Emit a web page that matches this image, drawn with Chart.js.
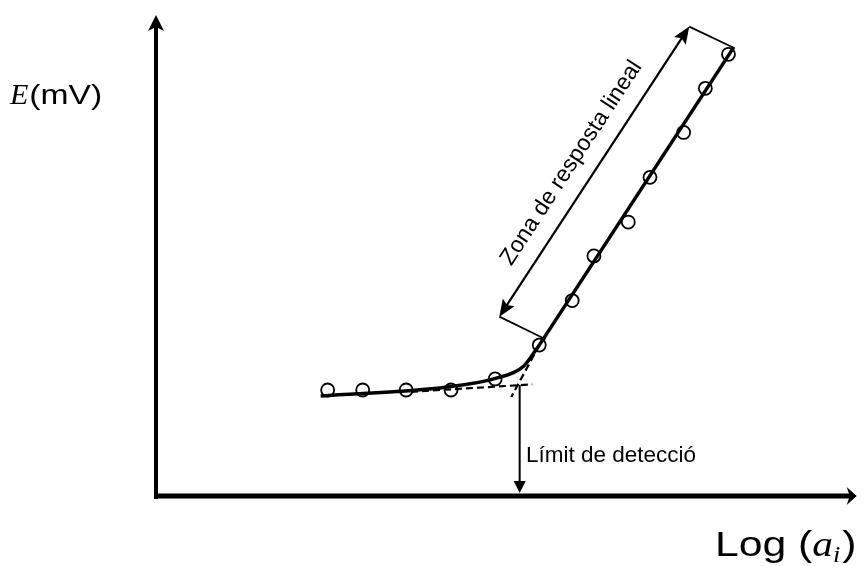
<!DOCTYPE html>
<html><head><meta charset="utf-8">
<script src="https://cdn.jsdelivr.net/npm/chart.js@4/dist/chart.umd.min.js"></script>
<style>html,body{margin:0;padding:0;background:#fff}canvas{display:block}</style>
</head><body>
<canvas id="c" width="865" height="566"></canvas>
<script>
// ---- Data (X = Log(a_i), Y = E in mV, arbitrary schematic units) ----
const pointX = [2.45, 2.95, 3.57, 4.21, 4.84, 5.47, 5.94, 6.25, 6.74, 7.05, 7.53, 7.84, 8.17];
const pointY = [52.9, 52.9, 52.9, 52.9, 58.4, 75.3, 97.5, 119.8, 136.7, 159.0, 181.4, 203.4, 220.4];
const curveX = [2.35, 4.16, 4.87, 5.25, 5.47];
const curveY = [49.9, 54.4, 58.9, 64.9, 75.3];
const linearX = [5.47, 8.24];
const linearY = [75.3, 223.6];
const baseDashX = [3.64, 5.37];
const baseDashY = [52.0, 55.7];
const slopeDashX = [5.47, 5.07];
const slopeDashY = [75.3, 49.4];
const limitArrowX = [5.19, 5.19];
const limitArrowY = [55.4, 0];
const zoneArrowX = [4.90, 7.61];
const zoneArrowY = [89.5, 234.2];
const zoneTopTickX = [7.61, 8.26];
const zoneTopTickY = [234.2, 223.4];
const zoneBotTickX = [4.90, 5.56];
const zoneBotTickY = [89.5, 78.2];
const zoneLabelPos = [5.93, 166.2];
const limitLabelPos = [5.28, 17];
const xRange = [0, 10];
const yRange = [0, 240];
const yTitleParts = ['E', '(mV)'];
const xTitleParts = ['Log (', 'a', 'i', ')'];
const zoneLabel = 'Zona de resposta lineal';
const limitLabel = 'Límit de detecció';

const pts = (xs, ys) => xs.map((x, i) => ({x, y: ys[i]}));

function head(ctx, tx, ty, fx, fy, len, hw, notch) {
  const dx = tx - fx, dy = ty - fy, L = Math.hypot(dx, dy);
  const ux = dx / L, uy = dy / L, nx = -uy, ny = ux;
  ctx.beginPath();
  ctx.moveTo(tx, ty);
  ctx.lineTo(tx - ux * len + nx * hw, ty - uy * len + ny * hw);
  ctx.lineTo(tx - ux * (len - notch), ty - uy * (len - notch));
  ctx.lineTo(tx - ux * len - nx * hw, ty - uy * len - ny * hw);
  ctx.closePath();
  ctx.fill();
}
function seg(ctx, x1, y1, x2, y2, w) {
  ctx.lineWidth = w;
  ctx.beginPath(); ctx.moveTo(x1, y1); ctx.lineTo(x2, y2); ctx.stroke();
}
function stext(ctx, t, x, y, font, sx) {
  ctx.save();
  ctx.font = font;
  ctx.translate(x, y);
  ctx.scale(sx, 1);
  ctx.fillText(t, 0, 0);
  const w = ctx.measureText(t).width * sx;
  ctx.restore();
  return w;
}

const decor = {
  id: 'decor',
  afterDatasetsDraw(chart) {
    const ctx = chart.ctx, xs = chart.scales.x, ys = chart.scales.y, a = chart.chartArea;
    const px = v => xs.getPixelForValue(v), py = v => ys.getPixelForValue(v);
    ctx.save();
    ctx.strokeStyle = '#000'; ctx.fillStyle = '#000'; ctx.lineCap = 'butt';
    // axes
    const ox = px(xRange[0]), oy = py(yRange[0]);
    seg(ctx, ox, oy + 3, ox, a.top + 10, 4);
    head(ctx, ox, a.top, ox, oy, 16, 8, 4);
    seg(ctx, ox - 2, oy, a.right - 6, oy, 5);
    head(ctx, a.right, oy, ox, oy, 10, 9, 3);
    // limit of detection arrow
    const lx1 = px(limitArrowX[0]), ly1 = py(limitArrowY[0]);
    const lx2 = px(limitArrowX[1]), ly2 = py(limitArrowY[1]) - 3;
    seg(ctx, lx1, ly1, lx2, ly2 - 8, 2);
    head(ctx, lx2, ly2, lx1, ly1, 12, 6, 0);
    // linear zone double arrow
    const ax1 = px(zoneArrowX[0]), ay1 = py(zoneArrowY[0]);
    const ax2 = px(zoneArrowX[1]), ay2 = py(zoneArrowY[1]);
    const ddx = ax2 - ax1, ddy = ay2 - ay1, dl = Math.hypot(ddx, ddy);
    seg(ctx, ax1 + ddx / dl * 8, ay1 + ddy / dl * 8, ax2 - ddx / dl * 8, ay2 - ddy / dl * 8, 2.2);
    head(ctx, ax1, ay1, ax2, ay2, 17, 7, 3);
    head(ctx, ax2, ay2, ax1, ay1, 17, 7, 3);
    seg(ctx, px(zoneTopTickX[0]), py(zoneTopTickY[0]), px(zoneTopTickX[1]), py(zoneTopTickY[1]), 1.7);
    seg(ctx, px(zoneBotTickX[0]), py(zoneBotTickY[0]), px(zoneBotTickX[1]), py(zoneBotTickY[1]), 1.7);
    // zone label
    ctx.save();
    ctx.translate(px(zoneLabelPos[0]), py(zoneLabelPos[1]));
    ctx.rotate(Math.atan2(ddy, ddx));
    ctx.font = '23px "Liberation Sans", Arial, sans-serif';
    ctx.textAlign = 'center'; ctx.textBaseline = 'middle';
    ctx.fillText(zoneLabel, 0, 0);
    ctx.restore();
    // limit label
    ctx.font = '22.5px "Liberation Sans", Arial, sans-serif';
    ctx.textAlign = 'left'; ctx.textBaseline = 'alphabetic';
    ctx.fillText(limitLabel, px(limitLabelPos[0]), py(limitLabelPos[1]));
    // y title
    let x = a.left - 146, y = a.top + 89;
    x += stext(ctx, yTitleParts[0], x, y, 'italic 30px "Liberation Serif", "Times New Roman", serif', 1.0) + 1;
    stext(ctx, yTitleParts[1], x, y, '28px "Liberation Sans", Arial, sans-serif', 1.2);
    // x title
    x = a.left + 559; y = a.bottom + 60;
    x += stext(ctx, xTitleParts[0], x, y, '35px "Liberation Sans", Arial, sans-serif', 1.22);
    x += stext(ctx, xTitleParts[1], x, y, 'italic 36px "Liberation Serif", "Times New Roman", serif', 1.15);
    x += stext(ctx, xTitleParts[2], x, y + 6, 'italic 23px "Liberation Serif", "Times New Roman", serif', 1.15) + 2;
    stext(ctx, xTitleParts[3], x, y, '35px "Liberation Sans", Arial, sans-serif', 1.22);
    ctx.restore();
  }
};

const lineDs = (data, extra) => Object.assign({
  data, showLine: true, pointRadius: 0, borderColor: '#000', fill: false
}, extra);

new Chart(document.getElementById('c'), {
  type: 'scatter',
  data: {
    datasets: [
      lineDs(pts(curveX, curveY), {borderWidth: 3.5, cubicInterpolationMode: 'monotone'}),
      lineDs(pts(linearX, linearY), {borderWidth: 3.5}),
      lineDs(pts(baseDashX, baseDashY), {borderWidth: 2.2, borderDash: [7, 4]}),
      lineDs(pts(slopeDashX, slopeDashY), {borderWidth: 2.2, borderDash: [7, 4]}),
      {data: pts(pointX, pointY), pointRadius: 6.5, pointBorderWidth: 1.8,
       pointBackgroundColor: '#fff', pointBorderColor: '#000', showLine: false}
    ]
  },
  options: {
    responsive: false, animation: false, devicePixelRatio: 1,
    layout: {padding: {left: 156, right: 4, top: 15, bottom: 70}},
    plugins: {legend: {display: false}, tooltip: {enabled: false}},
    scales: {
      x: {type: 'linear', display: false, min: xRange[0], max: xRange[1]},
      y: {type: 'linear', display: false, min: yRange[0], max: yRange[1]}
    }
  },
  plugins: [decor]
});
</script>
</body></html>
